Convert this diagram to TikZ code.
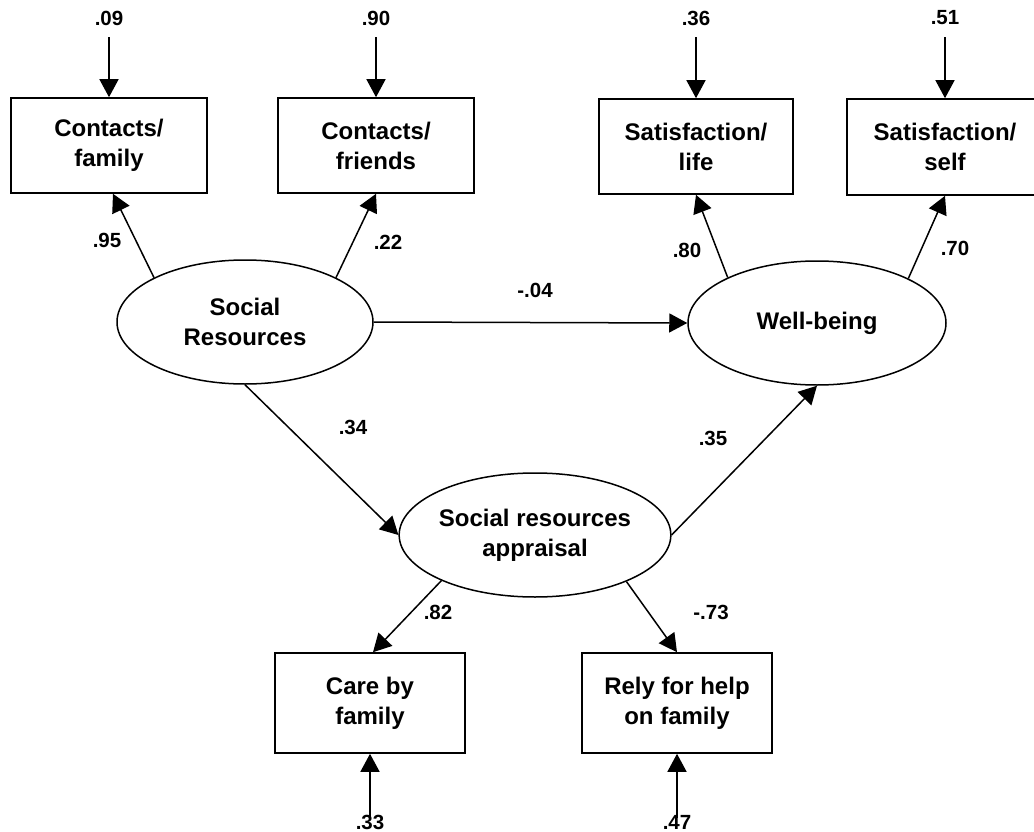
\documentclass[tikz,border=0pt]{standalone}
\usepackage{fontspec}
\setmainfont{Liberation Sans}
\usetikzlibrary{shapes.geometric,arrows.meta}
\begin{document}
\begin{tikzpicture}[x=1pt,y=-1pt,
  box/.style={draw,line width=1.6pt,rectangle,inner sep=0pt,align=center,
    font=\fontsize{24}{30}\selectfont\bfseries},
  latent/.style={draw,line width=1.5pt,ellipse,inner sep=0pt,
    minimum width=256pt,minimum height=124pt,align=center,
    font=\fontsize{24}{30}\selectfont\bfseries},
  coef/.style={inner sep=0pt,font=\fontsize{20.5}{24}\selectfont\bfseries},
  arr/.style={line width=1.5pt,-{Triangle[length=18pt,width=19pt]}}]
\useasboundingbox (0,0) rectangle (1034,832);

% observed indicators
\node[box,minimum width=196pt,minimum height=95pt] (fam) at (109,145.5) {Contacts/\\family};
\node[box,minimum width=196pt,minimum height=95pt] (fri) at (376,145.5) {Contacts/\\friends};
\node[box,minimum width=194pt,minimum height=95pt] (life) at (696,146.5) {Satisfaction/\\life};
\node[box,minimum width=196pt,minimum height=96pt] (self) at (945,147) {Satisfaction/\\self};
\node[box,minimum width=190pt,minimum height=100pt] (care) at (370,703) {Care by\\family};
\node[box,minimum width=190pt,minimum height=100pt] (rely) at (677,703) {Rely for help\\on family};

% latent variables
\node[latent] (SR) at (245,322) {Social\\Resources};
\node[latent,minimum width=258pt] (WB) at (817,323) {Well-being};
\node[latent] (SRA) at (535,535) {Social resources\\appraisal};

% error terms
\node[coef] (e1) at (109,18) {.09};
\node[coef] (e2) at (376,18) {.90};
\node[coef] (e3) at (696,18) {.36};
\node[coef] (e4) at (945,18) {.51};
\node[coef] (e5) at (370,822) {.33};
\node[coef] (e6) at (677,822) {.47};

\draw[arr,shorten <=12pt] (e1.south) -- (fam.north);
\draw[arr,shorten <=12pt] (e2.south) -- (fri.north);
\draw[arr,shorten <=12pt] (e3.south) -- (life.north);
\draw[arr,shorten <=12pt] (e4.south) -- (self.north);
\draw[arr,shorten <=-3pt] (e5.north) -- (care.south);
\draw[arr,shorten <=-3pt] (e6.north) -- (rely.south);

% loadings
\draw[arr] (SR.154.7) -- ([xshift=4pt]fam.south);
\draw[arr] (SR.26.6) -- (fri.south);
\draw[arr] (WB.153.9) -- (life.south);
\draw[arr] (WB.26.3) -- (self.south);
\draw[arr] (SRA.206.1) -- ([xshift=3pt]care.north);
\draw[arr] (SRA.333.9) -- (rely.north);

% structural paths
\draw[arr] (SR.east) -- (WB.west);
\draw[arr] (SR.south) -- (SRA.west);
\draw[arr] (SRA.east) -- (WB.south);

% coefficients
\node[coef] (c1) at (107,240) {.95};
\node[coef] (c2) at (388,242) {.22};
\node[coef] (c3) at (687,250) {.80};
\node[coef] (c4) at (955,248) {.70};
\node[coef] (c5) at (535,290) {-.04};
\node[coef] (c6) at (353,427) {.34};
\node[coef] (c7) at (713,438) {.35};
\node[coef] (c8) at (438,612) {.82};
\node[coef] (c9) at (711,612) {-.73};
\end{tikzpicture}
\end{document}
